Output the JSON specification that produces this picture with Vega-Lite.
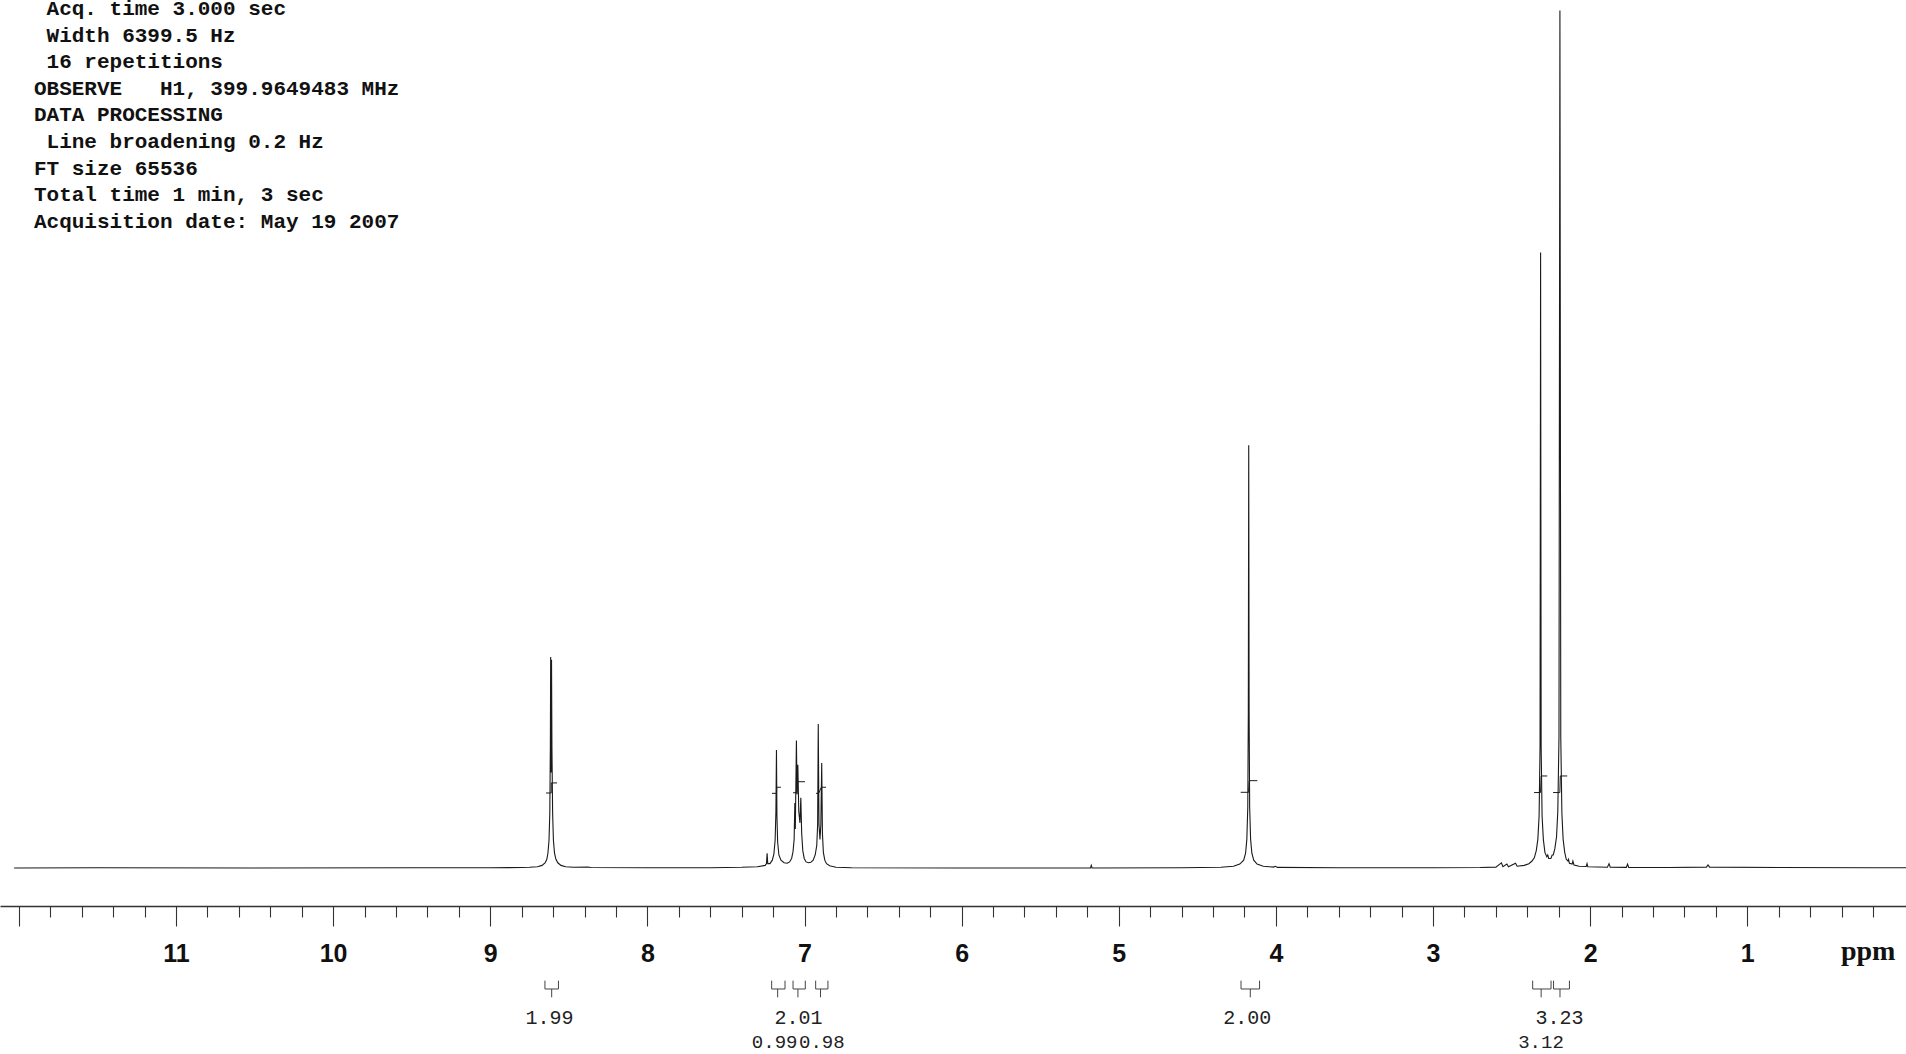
{
  "$schema": "https://vega.github.io/schema/vega-lite/v6.json",
  "width": 1906,
  "height": 1054,
  "autosize": {"type": "none"},
  "padding": 0,
  "background": "white",
  "config": {"view": {"stroke": null}},
  "datasets": {
    "spectrum": [
      {"ppm": 12.03, "i": 0}, {"ppm": 11.5, "i": 0.02}, {"ppm": 10.5, "i": 0.0}, {"ppm": 9.5, "i": 0.02},
      {"ppm": 9.0, "i": 0.03}, {"ppm": 8.8, "i": 0.05}, {"ppm": 8.75, "i": 0.08}, {"ppm": 8.7, "i": 0.15},
      {"ppm": 8.67, "i": 0.3}, {"ppm": 8.65, "i": 0.6}, {"ppm": 8.64, "i": 1.0}, {"ppm": 8.633, "i": 1.7},
      {"ppm": 8.626, "i": 3.2}, {"ppm": 8.621, "i": 6.3}, {"ppm": 8.6175, "i": 14}, {"ppm": 8.6155, "i": 24.3},
      {"ppm": 8.6125, "i": 11}, {"ppm": 8.61, "i": 24.0}, {"ppm": 8.6075, "i": 14}, {"ppm": 8.603, "i": 6.3},
      {"ppm": 8.598, "i": 3.2}, {"ppm": 8.591, "i": 1.7}, {"ppm": 8.582, "i": 1.0}, {"ppm": 8.57, "i": 0.6},
      {"ppm": 8.55, "i": 0.3}, {"ppm": 8.52, "i": 0.15}, {"ppm": 8.47, "i": 0.08}, {"ppm": 8.38, "i": 0.12},
      {"ppm": 8.36, "i": 0.05}, {"ppm": 8.0, "i": 0.02}, {"ppm": 7.6, "i": 0.03}, {"ppm": 7.4, "i": 0.08},
      {"ppm": 7.3, "i": 0.15}, {"ppm": 7.25, "i": 0.3}, {"ppm": 7.242, "i": 0.5}, {"ppm": 7.238, "i": 1.7},
      {"ppm": 7.234, "i": 0.5}, {"ppm": 7.22, "i": 0.5}, {"ppm": 7.205, "i": 0.9}, {"ppm": 7.195, "i": 1.6},
      {"ppm": 7.187, "i": 3.2}, {"ppm": 7.182, "i": 6.5}, {"ppm": 7.1785, "i": 13.6}, {"ppm": 7.1755, "i": 6.0},
      {"ppm": 7.171, "i": 3.0}, {"ppm": 7.163, "i": 1.5}, {"ppm": 7.15, "i": 0.9}, {"ppm": 7.13, "i": 0.6},
      {"ppm": 7.11, "i": 0.55}, {"ppm": 7.095, "i": 0.7}, {"ppm": 7.082, "i": 1.1}, {"ppm": 7.073, "i": 1.9},
      {"ppm": 7.066, "i": 3.3}, {"ppm": 7.0615, "i": 7.5}, {"ppm": 7.0585, "i": 4.5}, {"ppm": 7.0515, "i": 14.7},
      {"ppm": 7.0475, "i": 8.5}, {"ppm": 7.0425, "i": 11.9}, {"ppm": 7.0365, "i": 6.5}, {"ppm": 7.029, "i": 5.2},
      {"ppm": 7.0235, "i": 8.1}, {"ppm": 7.018, "i": 4.0}, {"ppm": 7.011, "i": 2.0}, {"ppm": 7.002, "i": 1.1},
      {"ppm": 6.99, "i": 0.7}, {"ppm": 6.975, "i": 0.6}, {"ppm": 6.96, "i": 0.65}, {"ppm": 6.945, "i": 0.9},
      {"ppm": 6.932, "i": 1.5}, {"ppm": 6.922, "i": 2.6}, {"ppm": 6.9165, "i": 5}, {"ppm": 6.9125, "i": 16.6},
      {"ppm": 6.908, "i": 5}, {"ppm": 6.9015, "i": 3.3}, {"ppm": 6.896, "i": 5}, {"ppm": 6.8905, "i": 12.1},
      {"ppm": 6.886, "i": 4}, {"ppm": 6.88, "i": 1.8}, {"ppm": 6.871, "i": 0.9}, {"ppm": 6.86, "i": 0.5},
      {"ppm": 6.84, "i": 0.25}, {"ppm": 6.8, "i": 0.08}, {"ppm": 6.7, "i": 0.03}, {"ppm": 6.0, "i": 0},
      {"ppm": 5.18, "i": 0.0}, {"ppm": 5.175, "i": 0.3}, {"ppm": 5.17, "i": 0.0}, {"ppm": 4.6, "i": 0.02},
      {"ppm": 4.35, "i": 0.08}, {"ppm": 4.27, "i": 0.2}, {"ppm": 4.23, "i": 0.45}, {"ppm": 4.205, "i": 0.9},
      {"ppm": 4.193, "i": 1.7}, {"ppm": 4.185, "i": 3.3}, {"ppm": 4.179, "i": 7}, {"ppm": 4.1755, "i": 18},
      {"ppm": 4.173, "i": 48.7}, {"ppm": 4.1705, "i": 18}, {"ppm": 4.167, "i": 7}, {"ppm": 4.161, "i": 3.3},
      {"ppm": 4.153, "i": 1.7}, {"ppm": 4.141, "i": 0.9}, {"ppm": 4.12, "i": 0.45}, {"ppm": 4.08, "i": 0.2},
      {"ppm": 4.015, "i": 0.1}, {"ppm": 4.003, "i": 0.2}, {"ppm": 3.99, "i": 0.07}, {"ppm": 3.6, "i": 0.03},
      {"ppm": 3.0, "i": 0.02}, {"ppm": 2.7, "i": 0.05}, {"ppm": 2.6, "i": 0.1}, {"ppm": 2.565, "i": 0.6},
      {"ppm": 2.555, "i": 0.15}, {"ppm": 2.53, "i": 0.45}, {"ppm": 2.52, "i": 0.15}, {"ppm": 2.475, "i": 0.55},
      {"ppm": 2.465, "i": 0.2}, {"ppm": 2.42, "i": 0.3}, {"ppm": 2.39, "i": 0.5}, {"ppm": 2.37, "i": 0.8},
      {"ppm": 2.355, "i": 1.2}, {"ppm": 2.343, "i": 2.0}, {"ppm": 2.333, "i": 3.3}, {"ppm": 2.325, "i": 6},
      {"ppm": 2.319, "i": 14}, {"ppm": 2.3155, "i": 70.9}, {"ppm": 2.312, "i": 14}, {"ppm": 2.306, "i": 6},
      {"ppm": 2.298, "i": 3.3}, {"ppm": 2.288, "i": 1.8}, {"ppm": 2.276, "i": 1.3}, {"ppm": 2.27, "i": 1.5},
      {"ppm": 2.264, "i": 1.1}, {"ppm": 2.25, "i": 1.1}, {"ppm": 2.242, "i": 1.5}, {"ppm": 2.235, "i": 1.5},
      {"ppm": 2.225, "i": 2.2}, {"ppm": 2.214, "i": 3.6}, {"ppm": 2.206, "i": 6.5}, {"ppm": 2.1985, "i": 15},
      {"ppm": 2.1925, "i": 98.8}, {"ppm": 2.187, "i": 15}, {"ppm": 2.18, "i": 6.3}, {"ppm": 2.172, "i": 3.3},
      {"ppm": 2.162, "i": 1.8}, {"ppm": 2.152, "i": 1.0}, {"ppm": 2.142, "i": 0.8}, {"ppm": 2.138, "i": 1.0},
      {"ppm": 2.132, "i": 0.55}, {"ppm": 2.115, "i": 0.45}, {"ppm": 2.11, "i": 0.8}, {"ppm": 2.103, "i": 0.35},
      {"ppm": 2.07, "i": 0.2}, {"ppm": 2.025, "i": 0.18}, {"ppm": 2.02, "i": 0.5}, {"ppm": 2.015, "i": 0.15},
      {"ppm": 1.89, "i": 0.08}, {"ppm": 1.88, "i": 0.5}, {"ppm": 1.872, "i": 0.08}, {"ppm": 1.77, "i": 0.07},
      {"ppm": 1.762, "i": 0.45}, {"ppm": 1.755, "i": 0.06}, {"ppm": 1.5, "i": 0.05}, {"ppm": 1.26, "i": 0.1},
      {"ppm": 1.25, "i": 0.35}, {"ppm": 1.24, "i": 0.1}, {"ppm": 0.8, "i": 0.05}, {"ppm": 0.2, "i": 0.03},
      {"ppm": -0.01, "i": 0.02}
    ],
    "integralTraces": [
      {"id": "a", "k": 0, "ppm": 8.645, "v": 8.64}, {"id": "a", "k": 1, "ppm": 8.612, "v": 8.64},
      {"id": "a", "k": 2, "ppm": 8.6115, "v": 9.8}, {"id": "a", "k": 3, "ppm": 8.575, "v": 9.8},
      {"id": "b", "k": 0, "ppm": 7.207, "v": 8.6}, {"id": "b", "k": 1, "ppm": 7.178, "v": 8.6},
      {"id": "b", "k": 2, "ppm": 7.177, "v": 9.3}, {"id": "b", "k": 3, "ppm": 7.15, "v": 9.3},
      {"id": "c", "k": 0, "ppm": 7.073, "v": 8.67}, {"id": "c", "k": 1, "ppm": 7.05, "v": 8.67},
      {"id": "c", "k": 2, "ppm": 7.043, "v": 9.94}, {"id": "c", "k": 3, "ppm": 6.997, "v": 9.94},
      {"id": "d", "k": 0, "ppm": 6.927, "v": 8.6}, {"id": "d", "k": 1, "ppm": 6.91, "v": 8.6},
      {"id": "d", "k": 2, "ppm": 6.893, "v": 9.3}, {"id": "d", "k": 3, "ppm": 6.863, "v": 9.3},
      {"id": "e", "k": 0, "ppm": 4.224, "v": 8.72}, {"id": "e", "k": 1, "ppm": 4.174, "v": 8.72},
      {"id": "e", "k": 2, "ppm": 4.17, "v": 10.06}, {"id": "e", "k": 3, "ppm": 4.118, "v": 10.06},
      {"id": "f", "k": 0, "ppm": 2.357, "v": 8.69}, {"id": "f", "k": 1, "ppm": 2.316, "v": 8.69},
      {"id": "f", "k": 2, "ppm": 2.312, "v": 10.6}, {"id": "f", "k": 3, "ppm": 2.273, "v": 10.6},
      {"id": "g", "k": 0, "ppm": 2.236, "v": 8.69}, {"id": "g", "k": 1, "ppm": 2.193, "v": 8.69},
      {"id": "g", "k": 2, "ppm": 2.19, "v": 10.6}, {"id": "g", "k": 3, "ppm": 2.146, "v": 10.6}
    ],
    "brackets": [
      {"hi": 8.652, "lo": 8.566, "c": 8.609},
      {"hi": 7.209, "lo": 7.124, "c": 7.171},
      {"hi": 7.073, "lo": 6.995, "c": 7.042},
      {"hi": 6.929, "lo": 6.851, "c": 6.898},
      {"hi": 4.222, "lo": 4.104, "c": 4.163},
      {"hi": 2.366, "lo": 2.249, "c": 2.312},
      {"hi": 2.233, "lo": 2.132, "c": 2.192}
    ],
    "integralValues": [
      {"ppm": 8.623, "label": "1.99", "tier": 1},
      {"ppm": 7.19, "label": "0.99", "tier": 2},
      {"ppm": 7.038, "label": "2.01", "tier": 1},
      {"ppm": 6.89, "label": "0.98", "tier": 2},
      {"ppm": 4.183, "label": "2.00", "tier": 1},
      {"ppm": 2.313, "label": "3.12", "tier": 2},
      {"ppm": 2.195, "label": "3.23", "tier": 1}
    ],
    "header": [
      {"block": "A", "lines": ["Acq. time 3.000 sec", "Width 6399.5 Hz", "16 repetitions"]},
      {"block": "B", "lines": ["OBSERVE\u00a0\u00a0\u00a0H1, 399.9649483 MHz", "DATA PROCESSING"]},
      {"block": "C", "lines": ["Line broadening 0.2 Hz"]},
      {"block": "D", "lines": ["FT size 65536", "Total time 1 min, 3 sec", "Acquisition date: May 19 2007"]}
    ]
  },
  "layer": [
    {
      "data": {"name": "spectrum"},
      "mark": {"type": "line", "color": "#1a1a1a", "strokeWidth": 1.1, "interpolate": "linear"},
      "encoding": {
        "x": {
          "field": "ppm", "type": "quantitative",
          "scale": {"domain": [12.12, -0.01], "nice": false, "zero": false},
          "axis": {
            "orient": "bottom",
            "offset": -148,
            "title": null,
            "grid": false,
            "tickCount": 200,
            "values": [12, 11.8, 11.6, 11.4, 11.2, 11, 10.8, 10.6, 10.4, 10.2, 10, 9.8, 9.6, 9.4, 9.2, 9, 8.8, 8.6, 8.4, 8.2, 8, 7.8, 7.6, 7.4, 7.2, 7, 6.8, 6.6, 6.4, 6.2, 6, 5.8, 5.6, 5.4, 5.2, 5, 4.8, 4.6, 4.4, 4.2, 4, 3.8, 3.6, 3.4, 3.2, 3, 2.8, 2.6, 2.4, 2.2, 2, 1.8, 1.6, 1.4, 1.2, 1, 0.8, 0.6, 0.4, 0.2],
            "tickSize": {"condition": {"test": "datum.value % 1 === 0", "value": 20}, "value": 11},
            "labelExpr": "(datum.value % 1 === 0 && datum.value < 12) ? format(datum.value, 'd') : ''",
            "labelFont": "Liberation Sans, Arial, sans-serif",
            "labelFontWeight": "bold",
            "labelFontSize": 25,
            "labelColor": "#111",
            "labelBaseline": "alphabetic",
            "labelPadding": 35,
            "labelOverlap": false,
            "labelFlush": false,
            "labelBound": false,
            "domainColor": "#333",
            "domainWidth": 1.3,
            "tickColor": "#333",
            "tickWidth": 1.1
          }
        },
        "y": {
          "field": "i", "type": "quantitative",
          "scale": {"domain": [-21.43, 100], "nice": false, "zero": false},
          "axis": null
        }
      }
    },
    {
      "data": {"name": "integralTraces"},
      "mark": {"type": "line", "color": "#1a1a1a", "strokeWidth": 1},
      "encoding": {
        "x": {"field": "ppm", "type": "quantitative"},
        "y": {"field": "v", "type": "quantitative"},
        "detail": {"field": "id"},
        "order": {"field": "k", "type": "quantitative"}
      }
    },
    {
      "data": {"name": "brackets"},
      "mark": {"type": "rule", "color": "#444", "strokeWidth": 1},
      "encoding": {
        "x": {"field": "hi", "type": "quantitative"},
        "y": {"datum": -12.98, "type": "quantitative"},
        "y2": {"datum": -13.94}
      }
    },
    {
      "data": {"name": "brackets"},
      "mark": {"type": "rule", "color": "#444", "strokeWidth": 1},
      "encoding": {
        "x": {"field": "lo", "type": "quantitative"},
        "y": {"datum": -12.98, "type": "quantitative"},
        "y2": {"datum": -13.94}
      }
    },
    {
      "data": {"name": "brackets"},
      "mark": {"type": "rule", "color": "#444", "strokeWidth": 1},
      "encoding": {
        "x": {"field": "hi", "type": "quantitative"},
        "x2": {"field": "lo"},
        "y": {"datum": -13.94, "type": "quantitative"}
      }
    },
    {
      "data": {"name": "brackets"},
      "mark": {"type": "rule", "color": "#444", "strokeWidth": 1},
      "encoding": {
        "x": {"field": "c", "type": "quantitative"},
        "y": {"datum": -13.94, "type": "quantitative"},
        "y2": {"datum": -14.9}
      }
    },
    {
      "data": {"name": "integralValues"},
      "transform": [{"filter": "datum.tier == 1"}],
      "mark": {"type": "text", "font": "Liberation Mono, monospace", "fontSize": 20, "color": "#222", "align": "center", "baseline": "middle"},
      "encoding": {
        "x": {"field": "ppm", "type": "quantitative"},
        "y": {"datum": -17.28, "type": "quantitative"},
        "text": {"field": "label"}
      }
    },
    {
      "data": {"name": "integralValues"},
      "transform": [{"filter": "datum.tier == 2"}],
      "mark": {"type": "text", "font": "Liberation Mono, monospace", "fontSize": 19, "color": "#222", "align": "center", "baseline": "middle"},
      "encoding": {
        "x": {"field": "ppm", "type": "quantitative"},
        "y": {"datum": -20.0, "type": "quantitative"},
        "text": {"field": "label"}
      }
    },
    {
      "data": {"values": [{"unit": "ppm"}]},
      "mark": {"type": "text", "font": "Liberation Serif, serif", "fontWeight": "bold", "fontSize": 28, "color": "#111", "align": "center", "baseline": "alphabetic"},
      "encoding": {
        "x": {"datum": 0.231, "type": "quantitative"},
        "y": {"datum": -10.6, "type": "quantitative"},
        "text": {"field": "unit"}
      }
    },
    {
      "data": {"name": "header"},
      "transform": [{"filter": "datum.block == 'A'"}],
      "mark": {"type": "text", "font": "Liberation Mono, monospace", "fontWeight": "bold", "fontSize": 21, "color": "#111", "align": "left", "baseline": "alphabetic", "lineHeight": 26.6, "dx": 12.6},
      "encoding": {
        "x": {"datum": 11.904, "type": "quantitative"},
        "y": {"datum": 98.27, "type": "quantitative"},
        "text": {"field": "lines"}
      }
    },
    {
      "data": {"name": "header"},
      "transform": [{"filter": "datum.block == 'B'"}],
      "mark": {"type": "text", "font": "Liberation Mono, monospace", "fontWeight": "bold", "fontSize": 21, "color": "#111", "align": "left", "baseline": "alphabetic", "lineHeight": 26.6},
      "encoding": {
        "x": {"datum": 11.904, "type": "quantitative"},
        "y": {"datum": 89.08, "type": "quantitative"},
        "text": {"field": "lines"}
      }
    },
    {
      "data": {"name": "header"},
      "transform": [{"filter": "datum.block == 'C'"}],
      "mark": {"type": "text", "font": "Liberation Mono, monospace", "fontWeight": "bold", "fontSize": 21, "color": "#111", "align": "left", "baseline": "alphabetic", "lineHeight": 26.6, "dx": 12.6},
      "encoding": {
        "x": {"datum": 11.904, "type": "quantitative"},
        "y": {"datum": 82.95, "type": "quantitative"},
        "text": {"field": "lines"}
      }
    },
    {
      "data": {"name": "header"},
      "transform": [{"filter": "datum.block == 'D'"}],
      "mark": {"type": "text", "font": "Liberation Mono, monospace", "fontWeight": "bold", "fontSize": 21, "color": "#111", "align": "left", "baseline": "alphabetic", "lineHeight": 26.6},
      "encoding": {
        "x": {"datum": 11.904, "type": "quantitative"},
        "y": {"datum": 79.88, "type": "quantitative"},
        "text": {"field": "lines"}
      }
    }
  ]
}
